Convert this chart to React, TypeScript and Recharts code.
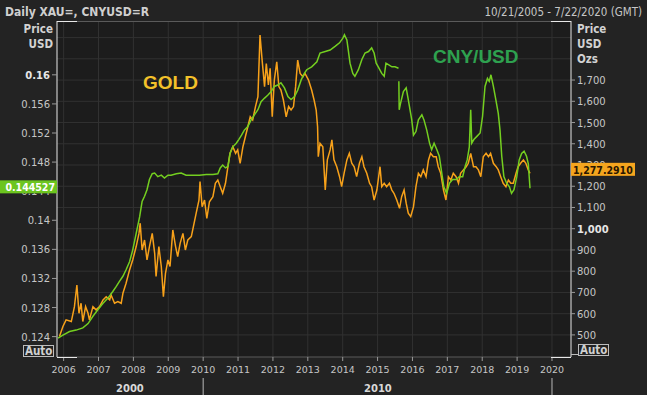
import React from 'react';
import { LineChart, Line, XAxis, YAxis, CartesianGrid } from 'recharts';

// gold spot, USD / oz
const GOLD_DATES = [
  2005.88, 2005.98, 2006.07, 2006.22, 2006.31, 2006.38, 2006.44, 2006.5, 2006.55, 2006.63,
  2006.7, 2006.74, 2006.84, 2006.93, 2007.03, 2007.13, 2007.22, 2007.32, 2007.36, 2007.46,
  2007.555, 2007.65, 2007.7, 2007.79, 2007.89, 2007.98, 2008.08, 2008.16, 2008.195, 2008.25,
  2008.32, 2008.39, 2008.46, 2008.54, 2008.61, 2008.65, 2008.73, 2008.8, 2008.86, 2008.92,
  2008.99, 2009.05, 2009.13, 2009.21, 2009.27, 2009.34, 2009.42, 2009.49, 2009.56, 2009.66,
  2009.72, 2009.8, 2009.88, 2009.91, 2009.97, 2010.04, 2010.105, 2010.18, 2010.28, 2010.35,
  2010.42, 2010.49, 2010.56, 2010.64, 2010.71, 2010.77, 2010.85, 2010.93, 2010.99, 2011.06,
  2011.14, 2011.21, 2011.28, 2011.35, 2011.42, 2011.5, 2011.57, 2011.63, 2011.69, 2011.76,
  2011.81, 2011.87, 2011.92, 2011.98, 2012.04, 2012.11, 2012.17, 2012.23, 2012.3, 2012.38,
  2012.45, 2012.52, 2012.59, 2012.65, 2012.71, 2012.78, 2012.86, 2012.92, 2013.02, 2013.11,
  2013.18, 2013.24, 2013.28, 2013.3, 2013.35, 2013.43, 2013.5, 2013.56, 2013.64, 2013.69,
  2013.75, 2013.83, 2013.91, 2013.97, 2014.04, 2014.12, 2014.19, 2014.26, 2014.33, 2014.4,
  2014.48, 2014.55, 2014.61, 2014.69, 2014.77, 2014.83, 2014.9, 2014.98, 2015.07, 2015.12,
  2015.19, 2015.26, 2015.34, 2015.41, 2015.47, 2015.55, 2015.63, 2015.69, 2015.76, 2015.82,
  2015.88, 2015.95, 2016.03, 2016.1, 2016.17, 2016.24, 2016.31, 2016.39, 2016.46, 2016.52,
  2016.6, 2016.68, 2016.74, 2016.81, 2016.89, 2016.96, 2017.03, 2017.1, 2017.17, 2017.25,
  2017.32, 2017.38, 2017.46, 2017.54, 2017.6, 2017.67, 2017.75, 2017.82, 2017.89, 2017.96,
  2018.03, 2018.11, 2018.18, 2018.24, 2018.32, 2018.4, 2018.46, 2018.53, 2018.6, 2018.68,
  2018.75, 2018.82, 2018.89, 2018.97, 2019.03, 2019.1, 2019.18, 2019.25, 2019.32, 2019.37,
];
const GOLD_PRICES = [
  492, 540, 571, 563, 633, 735, 602, 649, 563, 633,
  602, 571, 633, 618, 633, 665, 680, 665, 688, 649,
  657, 649, 696, 743, 806, 853, 916, 978, 1026, 900,
  947, 853, 916, 978, 884, 775, 916, 822, 680, 790,
  853, 822, 994, 916, 869, 931, 978, 900, 947, 963,
  1010, 1073, 1135, 1222, 1104, 1135, 1049, 1127, 1151, 1214,
  1229, 1198, 1167, 1214, 1292, 1355, 1386, 1355, 1371, 1308,
  1386, 1433, 1480, 1527, 1512, 1575, 1622, 1912, 1794, 1669,
  1778, 1677, 1755, 1527, 1700, 1786, 1669, 1653, 1606, 1527,
  1575, 1559, 1575, 1669, 1794, 1731, 1716, 1731, 1700, 1653,
  1606, 1559, 1480, 1339, 1402, 1386, 1182, 1324, 1371, 1418,
  1324, 1292, 1245, 1198, 1261, 1324, 1355, 1308, 1292, 1245,
  1308, 1339, 1292, 1261, 1214, 1198, 1135, 1182, 1292, 1198,
  1214, 1198, 1214, 1182, 1167, 1135, 1096, 1151, 1182, 1120,
  1073, 1057, 1104, 1198, 1261, 1245, 1277, 1245, 1324, 1355,
  1339, 1339, 1292, 1261, 1182, 1135, 1245, 1229, 1261, 1245,
  1214, 1261, 1277, 1292, 1308, 1355, 1292, 1292, 1277, 1245,
  1339, 1355, 1339, 1355, 1308, 1292, 1277, 1245, 1214, 1198,
  1229, 1214, 1214, 1261, 1292, 1308, 1324, 1308, 1277, 1261,
];

// CNY/USD (null = gap in the feed)
const CNY_DATES = [
  2005.84, 2005.98, 2006.17, 2006.36, 2006.55, 2006.7, 2006.84, 2006.98, 2007.13, 2007.27,
  2007.41, 2007.51, 2007.6, 2007.7, 2007.79, 2007.89, 2007.98, 2008.08, 2008.18, 2008.25,
  2008.32, 2008.39, 2008.46, 2008.54, 2008.61, 2008.7, 2008.8, 2008.89, 2008.99, 2009.08,
  2009.23, 2009.37, 2009.51, 2009.7, 2009.89, 2010.09, 2010.28, 2010.42, 2010.49, 2010.56,
  2010.64, 2010.71, 2010.77, 2010.85, 2010.95, 2011.02, 2011.1, 2011.18, 2011.28, 2011.375,
  2011.47, 2011.57, 2011.66, 2011.76, 2011.85, 2011.95, 2012.04, 2012.14, 2012.23, 2012.33,
  2012.43, 2012.52, 2012.62, 2012.71, 2012.81, 2012.9, 2012.97, 2013.11, 2013.26, 2013.35,
  2013.5, 2013.64, 2013.78, 2013.91, 2014.0, 2014.05, 2014.12, 2014.16, 2014.21, 2014.29,
  2014.35, 2014.45, 2014.55, 2014.64, 2014.74, 2014.83, 2014.9, 2014.96, 2015.02, 2015.12,
  2015.19, 2015.24, 2015.31, 2015.41, 2015.5, 2015.6, 2015.605, 2015.61, 2015.62, 2015.66,
  2015.74, 2015.82, 2015.88, 2015.98, 2016.03, 2016.1, 2016.17, 2016.27, 2016.33, 2016.41,
  2016.49, 2016.55, 2016.62, 2016.7, 2016.77, 2016.84, 2016.9, 2016.98, 2017.06, 2017.15,
  2017.25, 2017.34, 2017.44, 2017.51, 2017.57, 2017.63, 2017.67, 2017.7, 2017.76, 2017.84,
  2017.94, 2018.01, 2018.08, 2018.15, 2018.2, 2018.25, 2018.32, 2018.39, 2018.46, 2018.51,
  2018.56, 2018.62, 2018.7, 2018.78, 2018.84, 2018.91, 2018.99, 2019.06, 2019.13, 2019.2,
  2019.27, 2019.32, 2019.37,
];
const CNY_RATES: (number | null)[] = [
  0.1238, 0.1242, 0.1247, 0.1249, 0.1252, 0.1258, 0.1268, 0.1277, 0.1286, 0.1293,
  0.1302, 0.1309, 0.1316, 0.1323, 0.1332, 0.1343, 0.1359, 0.1382, 0.1405, 0.1426,
  0.1433, 0.1442, 0.1456, 0.1464, 0.1465, 0.146, 0.1462, 0.1458, 0.1462, 0.1462,
  0.1464, 0.1465, 0.1462, 0.1462, 0.1462, 0.1463, 0.1463, 0.1464, 0.1472, 0.1476,
  0.1472, 0.1474, 0.1492, 0.1501, 0.1506, 0.1511, 0.1517, 0.1524, 0.1529, 0.1538,
  0.1545, 0.1552, 0.1563, 0.1568, 0.1572, 0.1577, 0.1584, 0.1586, 0.1589, 0.1582,
  0.157, 0.1566, 0.157, 0.1579, 0.1593, 0.1602, 0.1607, 0.1611, 0.1618, 0.163,
  0.1632, 0.1634, 0.1639, 0.1644, 0.165, 0.1655, 0.1648, 0.1634, 0.1616, 0.1602,
  0.1598, 0.1607, 0.1621, 0.163, 0.1632, 0.1637, 0.163, 0.1616, 0.1611, 0.1602,
  0.1598, 0.1616, 0.1614, 0.1611, 0.1611, 0.1609, null, 0.1591, 0.1552, 0.1561,
  0.1577, 0.1582, 0.1566, 0.1538, 0.1517, 0.1522, 0.1538, 0.1545, 0.1538, 0.1524,
  0.1506, 0.1497, 0.1506, 0.1497, 0.1488, 0.1465, 0.1446, 0.1437, 0.1451, 0.1456,
  0.1456, 0.146, 0.146, 0.1474, 0.1483, 0.1501, 0.1552, 0.1506, 0.1511, 0.1515,
  0.152, 0.1543, 0.1584, 0.1595, 0.1591, 0.16, 0.1584, 0.1566, 0.1547, 0.1524,
  0.1488, 0.146, 0.1451, 0.1446, 0.1437, 0.1442, 0.146, 0.1483, 0.1492, 0.1495,
  0.1488, 0.1478, 0.1444,
];

const YEAR_TICKS = [2006, 2007, 2008, 2009, 2010, 2011, 2012, 2013, 2014, 2015, 2016, 2017, 2018, 2019, 2020];
const CNY_TICKS = [0.124, 0.128, 0.132, 0.136, 0.14, 0.144, 0.148, 0.152, 0.156, 0.16];
const GOLD_TICKS = [500, 600, 700, 800, 900, 1000, 1100, 1200, 1300, 1400, 1500, 1600, 1700];
const GOLD_GRID = [500, 600, 700, 800, 900, 1000, 1100, 1200, 1300, 1400, 1500, 1600, 1700, 1800, 1900];
const DECADE_BOUNDS = [2010, 2020];
const DECADE_LABEL_AT = [2007.9, 2015.01];
const DECADE_LABELS = ['2000', '2010'];
const LAST_CNY = 0.144527;
const LAST_GOLD = 1277.291;

const goldData = GOLD_DATES.map((t, i) => ({ t, v: GOLD_PRICES[i] }));
const cnyData = CNY_DATES.map((t, i) => ({ t, v: CNY_RATES[i] }));

const W = 647;
const H = 395;
const LEFT_W = 57;
const RIGHT_W = 76;
const TOP = 21;
const X_AXIS_H = 38;
const PLOT_L = LEFT_W;
const PLOT_R = W - RIGHT_W;
const PLOT_B = H - X_AXIS_H;
const X_DOMAIN = [2005.81, 2020.545];

const BG = '#232323';
const PLOT_BG = '#1c1c1c';
const GRID = '#313131';
const TXT = '#c6c6c6';
const GOLD_C = '#f7a11a';
const CNY_C = '#74cf20';
const FONT = '"DejaVu Sans", Verdana, sans-serif';
const COND = '"DejaVu Sans Condensed", "DejaVu Sans", sans-serif';

function CnyTick({ x, y, payload }: any) {
  const v = payload.value;
  const ax = x + 7;
  if (v === LAST_CNY) {
    return (
      <g>
        <rect x={ax - 57} y={y - 7} width={57} height={13} fill="#6cc51f" />
        <text x={ax - 2} y={y + 4} textAnchor="end" fill="#ffffff" fontSize={10.5} fontWeight="bold" fontFamily={COND}>
          {String(LAST_CNY)}
        </text>
      </g>
    );
  }
  return (
    <text x={x} y={y + 4} textAnchor="end" fill={v === 0.16 ? '#e6e6e6' : TXT} fontSize={10}
      fontWeight={v === 0.16 ? 'bold' : 'normal'} fontFamily={FONT}>
      {String(v)}
    </text>
  );
}

function GoldTick({ x, y, payload }: any) {
  const v = payload.value;
  const ax = x - 6;
  if (v === LAST_GOLD) {
    return (
      <g>
        <rect x={ax} y={y - 7} width={64} height={13} fill="#f5a51e" />
        <text x={ax + 2} y={y + 4} fill="#2a1600" fontSize={10.5} fontWeight="bold" fontFamily={COND}>
          {LAST_GOLD.toLocaleString('en-US', { minimumFractionDigits: 4 })}
        </text>
      </g>
    );
  }
  return (
    <text x={x} y={y + 4} fill={v === 1000 ? '#e6e6e6' : TXT} fontSize={10}
      fontWeight={v === 1000 ? 'bold' : 'normal'} fontFamily={FONT}>
      {v.toLocaleString('en-US')}
    </text>
  );
}

// one bottom axis draws both rows: the years, and the decades under them
function TimeTick({ x, y, payload }: any) {
  const v = payload.value;
  const i = DECADE_LABEL_AT.indexOf(v);
  if (i >= 0) {
    return (
      <text x={x} y={y + 35} textAnchor="middle" fill="#d8d8d8" fontSize={10} fontWeight="bold" fontFamily={FONT}>
        {DECADE_LABELS[i]}
      </text>
    );
  }
  return (
    <g>
      <line x1={x} x2={x} y1={y} y2={y + 4} stroke="#9a9a9a" />
      <text x={x} y={y + 16} textAnchor="middle" fill={TXT} fontSize={9.5} fontFamily={FONT}>
        {v}
      </text>
      {DECADE_BOUNDS.includes(v) && <line x1={x} x2={x} y1={y + 21} y2={y + 38} stroke="#b8b8b8" />}
    </g>
  );
}

const boxLabel: React.CSSProperties = {
  position: 'absolute', fontFamily: COND, fontWeight: 'bold', fontSize: 11.5, color: '#d0d0d0',
  border: '1px solid #bdbdbd', padding: '0 1px', lineHeight: '10px', height: 10,
};

export default function App() {
  const textBlock = (top: number, s: string, side: 'l' | 'r') => (
    <div style={{
      position: 'absolute', top, fontFamily: COND, fontWeight: 'bold', fontSize: 11.5, color: '#d2d2d2',
      ...(side === 'l' ? { right: W - 53, textAlign: 'right' } : { left: 577 }),
    }}>{s}</div>
  );
  return (
    <div style={{ position: 'absolute', left: 0, top: 0, width: W, height: H, background: BG, overflow: 'hidden' }}>
      <div style={{ position: 'absolute', left: 5, top: 5, fontFamily: COND, fontWeight: 'bold', fontSize: 12, color: '#cfcfcf' }}>
        Daily XAU=, CNYUSD=R
      </div>
      <div style={{ position: 'absolute', right: 5, top: 5, fontFamily: COND, fontSize: 11.5, color: '#c6c6c6' }}>
        10/21/2005 - 7/22/2020 (GMT)
      </div>
      {textBlock(22, 'Price', 'l')}
      {textBlock(37, 'USD', 'l')}
      {textBlock(22, 'Price', 'r')}
      {textBlock(37, 'USD', 'r')}
      {textBlock(52, 'Ozs', 'r')}

      <LineChart width={W} height={H} margin={{ top: TOP, right: 0, bottom: 0, left: 0 }}>
        <CartesianGrid xAxisId="yr" yAxisId="gold" fill={PLOT_BG} stroke={GRID}
          horizontalValues={GOLD_GRID} verticalValues={YEAR_TICKS} />
        <XAxis xAxisId="yr" dataKey="t" type="number" domain={X_DOMAIN} allowDataOverflow
          ticks={[...YEAR_TICKS, ...DECADE_LABEL_AT]} interval={0} height={X_AXIS_H} tickSize={0} tickMargin={0}
          axisLine={{ stroke: '#5a5a5a' }} tickLine={false} tick={<TimeTick />} />
        <YAxis yAxisId="cny" orientation="left" width={LEFT_W} type="number" domain={[0.1212, 0.1674]} allowDataOverflow
          ticks={[...CNY_TICKS, LAST_CNY]} interval={0} tickSize={5} tickMargin={2}
          axisLine={{ stroke: '#e8e8e8' }} tickLine={{ stroke: '#9a9a9a' }} tick={<CnyTick />} />
        <YAxis yAxisId="gold" orientation="right" width={RIGHT_W} type="number" domain={[396, 1978]} allowDataOverflow
          ticks={[...GOLD_TICKS, LAST_GOLD]} interval={0} tickSize={4} tickMargin={2}
          axisLine={{ stroke: '#e8e8e8' }} tickLine={{ stroke: '#9a9a9a' }} tick={<GoldTick />} />
        <Line xAxisId="yr" yAxisId="gold" data={goldData} dataKey="v" stroke={GOLD_C} strokeWidth={1.5}
          dot={false} isAnimationActive={false} />
        <Line xAxisId="yr" yAxisId="cny" data={cnyData} dataKey="v" stroke={CNY_C} strokeWidth={1.5}
          dot={false} connectNulls={false} isAnimationActive={false} />
      </LineChart>

      {/* frame: gray top edge with white corners */}
      <svg width={W} height={H} style={{ position: 'absolute', left: 0, top: 0, pointerEvents: 'none' }}>
        <line x1={PLOT_L} x2={PLOT_R} y1={TOP + 0.5} y2={TOP + 0.5} stroke="#5a5a5a" />
        <line x1={PLOT_L} x2={PLOT_L + 20} y1={TOP + 0.5} y2={TOP + 0.5} stroke="#e8e8e8" />
        <line x1={PLOT_R - 20} x2={PLOT_R} y1={TOP + 0.5} y2={TOP + 0.5} stroke="#e8e8e8" />
        <line x1={PLOT_L} x2={PLOT_L + 20} y1={PLOT_B + 0.5} y2={PLOT_B + 0.5} stroke="#e8e8e8" />
        <line x1={PLOT_R - 20} x2={PLOT_R} y1={PLOT_B + 0.5} y2={PLOT_B + 0.5} stroke="#e8e8e8" />
        <line x1={PLOT_R} x2={PLOT_R + 7} y1={PLOT_B - 2.5} y2={PLOT_B - 2.5} stroke="#bdbdbd" />
      </svg>

      <div style={{ ...boxLabel, left: 23, top: 345 }}>Auto</div>
      <div style={{ ...boxLabel, left: 578, top: 344 }}>Auto</div>

      <div style={{ position: 'absolute', left: 143, top: 72, fontFamily: '"Liberation Sans", Arial, sans-serif',
        fontWeight: 'bold', fontSize: 19, color: '#f3c12a' }}>GOLD</div>
      <div style={{ position: 'absolute', left: 433, top: 46, fontFamily: '"Liberation Sans", Arial, sans-serif',
        fontWeight: 'bold', fontSize: 19, color: '#2ea14f' }}>CNY/USD</div>
    </div>
  );
}
